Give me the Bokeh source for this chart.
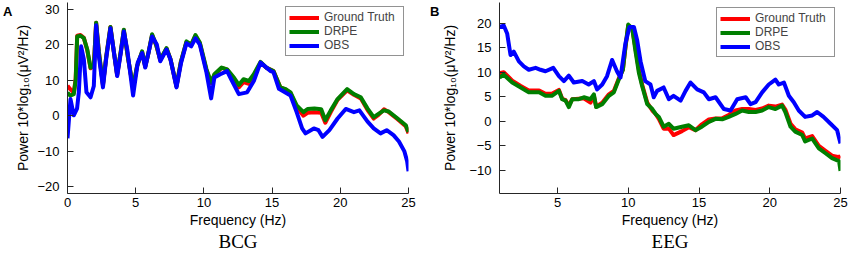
from bokeh.plotting import figure
from bokeh.layouts import row
from bokeh.models import Range1d, FixedTicker, LinearAxis
from bokeh.embed import file_html
from bokeh.resources import INLINE

# ---------------- Panel A : BCG ----------------
bcg_gt_freq = [0, 0.2, 0.46, 0.6, 0.71, 0.95, 1.2, 1.45, 1.69, 1.93, 2.1, 2.3, 2.6, 2.85, 3.15, 3.4, 3.64, 3.9,
               4.13, 4.45, 4.81, 5.1, 5.47, 5.7, 5.95, 6.2, 6.5, 6.8, 7.26, 7.55, 7.99, 8.3, 8.72, 9.07, 9.38,
               9.7, 10.19, 10.53, 10.77, 11.3, 11.7, 12.2, 12.56, 12.9, 13.3, 13.66, 14.15, 14.6, 15.1, 15.6,
               16.0, 16.35, 16.8, 17.3, 17.6, 18.1, 18.6, 18.9, 19.3, 19.8, 20.5, 21.0, 21.5, 22.0, 22.45,
               22.8, 23.2, 23.55, 24.2, 24.8, 25.0]
bcg_gt_pow = [8.5, 7.5, 6.5, 10.5, 22.6, 22.8, 22.0, 18.5, 13.4, 14.0, 26.3, 18.0, 8.6, 17.0, 25.1, 18.0, 11.4, 18.0,
              24.2, 16.0, 7.8, 14.0, 18.0, 13.8, 18.0, 22.8, 20.0, 15.7, 19.0, 16.0, 8.2, 15.0, 20.8, 20.0, 22.6,
              20.5, 12.8, 9.2, 11.5, 13.5, 13.0, 10.2, 8.0, 9.5, 9.0, 11.2, 15.0, 13.5, 12.6, 8.0,
              7.4, 6.4, 2.4, 0.0, 0.8, 1.0, 0.8, -2.0, 1.0, 4.5, 7.2, 5.9, 4.9, 1.6, -0.8,
              0.2, 1.8, 1.0, -1.0, -3.0, -5.0]

bcg_drpe_freq = bcg_gt_freq
bcg_drpe_pow = [6.5, 5.7, 6.1, 10.0, 22.4, 22.6, 21.9, 18.7, 13.6, 14.0, 26.3, 18.0, 8.9, 17.0, 25.1, 18.0, 11.7, 18.0,
                24.3, 16.0, 8.0, 14.0, 18.2, 14.0, 18.0, 23.0, 20.0, 15.9, 19.1, 16.0, 8.4, 15.0, 21.0, 20.1, 22.8,
                20.7, 13.1, 9.4, 11.7, 13.6, 13.1, 10.8, 8.7, 10.3, 9.8, 11.7, 15.2, 13.5, 12.6, 8.0,
                7.5, 6.6, 2.9, 1.0, 1.9, 2.0, 1.8, -1.3, 1.5, 4.7, 7.5, 6.1, 5.2, 2.0, -0.4,
                0.5, 1.5, 1.2, -0.8, -2.7, -4.6]

bcg_obs_freq = [0, 0.22, 0.46, 0.7, 0.83, 1.0, 1.2, 1.39, 1.69, 1.93, 2.1, 2.3, 2.6, 2.85, 3.15, 3.4, 3.64, 3.9,
                4.13, 4.38, 4.81, 5.15, 5.47, 5.7, 6.2, 6.55, 6.8, 7.26, 7.55, 7.99, 8.33, 8.72, 9.07, 9.38, 9.7,
                10.19, 10.53, 10.77, 11.2, 11.7, 12.0, 12.56, 13.17, 13.66, 14.15, 14.9, 15.1, 15.5, 16.35,
                16.8, 17.2, 17.45, 18.06, 18.4, 18.7, 19.2, 19.8, 20.4, 21.0, 21.4, 22.0, 22.45, 22.95, 23.4,
                23.9, 24.3, 24.7, 24.9, 25.0]
bcg_obs_pow = [-6.4, 4.7, 0.1, 2.0, 6.6, 19.6, 15.9, 6.6, 5.2, 8.4, 25.6, 16.8, 8.0, 16.5, 24.7, 18.0, 11.2, 17.5,
               23.8, 18.7, 5.7, 15.0, 17.7, 13.6, 22.4, 20.1, 15.4, 18.7, 15.9, 8.0, 15.0, 20.5, 19.6, 21.9, 20.1,
               12.2, 4.9, 10.8, 11.7, 12.6, 10.3, 6.1, 6.6, 9.8, 15.0, 12.6, 12.3, 7.6, 5.7,
               1.0, -3.6, -5.0, -3.6, -4.1, -6.0, -4.1, -0.8, 1.9, 1.0, 1.5, -1.7, -3.6, -5.0, -4.1,
               -5.5, -7.3, -10.1, -12.9, -15.7]

# ---------------- Panel B : EEG ----------------
eeg_gt_freq = [0.9, 1.2, 1.8, 2.4, 2.97, 3.7, 4.15, 4.6, 5.1, 5.33, 5.57, 5.8, 6.04, 6.5, 6.86, 7.33, 7.57, 7.73,
               8.16, 8.63, 8.98, 9.33, 9.62, 9.8, 10.0, 10.28, 10.5, 10.75, 10.98, 11.34, 11.7, 11.93, 12.16,
               12.5, 12.87, 13.2, 13.8, 14.28, 14.75, 15.2, 15.7, 16.17, 16.64, 17.1, 17.58, 18.05, 18.52, 19.0,
               19.46, 19.93, 20.4, 20.87, 21.1, 21.47, 21.8, 22.3, 22.5, 23.0, 23.47, 23.94, 24.4, 24.9, 25.0]
eeg_gt_pow = [9.8, 10.0, 8.3, 7.2, 6.3, 6.3, 5.6, 5.6, 6.4, 4.6, 4.3, 3.2, 4.5, 4.6, 4.7, 3.8, 5.2, 3.0,
              3.8, 5.5, 6.2, 8.7, 10.5, 15.0, 19.5, 19.0, 15.0, 10.5, 7.5, 3.8, 2.2, 1.5, 0.5,
              -1.5, -1.5, -2.8, -2.0, -1.2, -1.8, -0.6, 0.4, 0.6, 0.6, 1.3, 2.2, 2.5, 2.5, 2.3,
              2.6, 3.2, 3.0, 3.4, 2.4, -0.5, -1.6, -2.3, -3.5, -3.0, -5.0, -6.0, -7.0, -7.3, -7.0]

eeg_drpe_freq = eeg_gt_freq
eeg_drpe_pow = [8.9, 9.5, 7.9, 6.9, 5.9, 5.9, 5.2, 5.2, 6.2, 4.5, 4.2, 2.9, 4.5, 4.5, 4.9, 4.5, 5.5, 2.9,
                3.5, 5.2, 5.9, 8.5, 10.5, 15.2, 19.7, 18.9, 14.5, 9.9, 7.2, 3.5, 2.5, 1.5, 0.9,
                -1.1, -0.5, -1.5, -1.1, -0.8, -1.8, -1.1, -0.1, 0.5, 0.4, 0.9, 1.5, 2.2, 1.9, 1.9,
                2.2, 2.9, 2.5, 3.2, 1.9, -1.1, -2.1, -2.8, -4.1, -3.5, -5.5, -6.5, -7.5, -8.1, -10.1]

eeg_obs_freq = [0.9, 1.2, 1.44, 1.68, 1.91, 2.27, 2.62, 2.97, 3.45, 3.8, 4.15, 4.7, 5.1, 5.45, 5.8, 6.15, 6.75,
                7.2, 7.57, 7.8, 8.16, 8.5, 8.86, 9.2, 9.45, 9.8, 10.09, 10.4, 10.63, 10.87, 11.2, 11.57, 11.8,
                12.04, 12.5, 12.87, 13.2, 13.7, 14.05, 14.4, 14.87, 15.34, 15.7, 16.17, 16.76, 17.23, 17.7,
                18.3, 18.64, 19.0, 19.46, 19.93, 20.4, 20.64, 21.0, 21.35, 21.7, 22.05, 22.5, 23.0, 23.35,
                23.8, 24.3, 24.76, 25.0]
eeg_obs_pow = [19.2, 19.5, 17.9, 13.5, 14.2, 12.2, 11.2, 10.5, 10.9, 10.5, 10.2, 10.9, 9.2, 8.2, 9.3, 7.9, 8.2,
               7.5, 8.2, 6.5, 7.5, 9.2, 12.5, 10.2, 8.9, 15.9, 19.2, 19.2, 16.5, 12.2, 8.2, 7.5, 4.9,
               6.2, 6.9, 4.5, 5.2, 4.2, 6.2, 7.9, 6.5, 5.9, 4.5, 4.9, 2.5, 2.2, 4.5,
               4.9, 3.5, 3.9, 5.9, 7.5, 8.5, 7.5, 7.9, 5.2, 3.9, 2.2, 0.9, 1.2, 1.9,
               0.9, -0.5, -1.8, -4.5]

series_names = ["Ground Truth", "DRPE", "OBS"]
series_colors = ["#ff0000", "#007f00", "#0000ff"]

FONT = "Liberation Sans"


def blank_axis(label, font, size, style, orientation=None, align=None):
    ax = LinearAxis(ticker=FixedTicker(ticks=[]), axis_label=label)
    ax.axis_line_color = None
    ax.major_tick_in = 0
    ax.major_tick_out = 0
    ax.minor_tick_in = 0
    ax.minor_tick_out = 0
    ax.major_label_standoff = 0
    ax.axis_label_standoff = 0
    ax.axis_label_text_font = font
    ax.axis_label_text_font_size = size
    ax.axis_label_text_font_style = style
    ax.axis_label_text_color = "black"
    if orientation is not None:
        ax.axis_label_orientation = orientation
    if align is not None:
        ax.axis_label_align = align
    return ax


def make_panel(width, border_left, border_right, xr, yr, xticks, yticks, ylab_standoff,
               data, letter, bottom_text, legend_margin):
    p = figure(width=width, height=254, x_range=Range1d(*xr), y_range=Range1d(*yr),
               output_backend="svg", toolbar_location=None,
               min_border_left=border_left, min_border_right=border_right,
               min_border_top=2, min_border_bottom=56)
    p.outline_line_color = None
    p.grid.visible = False
    p.background_fill_color = "white"
    p.border_fill_color = "white"

    for ax in (p.xaxis[0], p.yaxis[0]):
        ax.axis_line_color = "#262626"
        ax.major_tick_line_color = "#262626"
        ax.major_tick_in = 6
        ax.major_tick_out = 0
        ax.minor_tick_in = 0
        ax.minor_tick_out = 0
        ax.major_label_text_font = FONT
        ax.major_label_text_font_size = "13px"
        ax.major_label_text_color = "black"
        ax.axis_label_text_font = FONT
        ax.axis_label_text_font_size = "14px"
        ax.axis_label_text_font_style = "normal"
        ax.axis_label_text_color = "black"

    p.xaxis.ticker = FixedTicker(ticks=xticks)
    p.yaxis.ticker = FixedTicker(ticks=yticks)
    p.xaxis.major_label_standoff = 4
    p.yaxis.major_label_standoff = 8
    p.xaxis.axis_label = "Frequency (Hz)"
    p.xaxis.axis_label_standoff = 2
    p.yaxis.axis_label = "Power 10*log\u2081\u2080(\u03bcV\u00b2/Hz)"
    p.yaxis.axis_label_standoff = ylab_standoff

    # panel letter (outer left, top aligned) and panel name (outer bottom)
    p.add_layout(blank_axis("\n" + letter, FONT, "13px", "bold", "horizontal", "end"), "left")
    p.add_layout(blank_axis(bottom_text, "Liberation Serif", "19px", "normal"), "below")

    for (fx, py), name, col in zip(data, series_names, series_colors):
        p.line(fx, py, line_color=col, line_width=4, line_join="round", legend_label=name)

    lg = p.legend[0]
    lg.location = "top_right"
    lg.margin = legend_margin
    lg.padding = 3
    lg.spacing = 0
    lg.label_height = 13
    lg.glyph_height = 13
    lg.glyph_width = 30
    lg.label_standoff = 5
    lg.label_width = 76
    lg.label_text_font = FONT
    lg.label_text_font_size = "12px"
    lg.border_line_color = "#262626"
    lg.border_line_width = 1
    lg.background_fill_alpha = 1.0
    return p


pa = make_panel(425, 67, 17, (0, 25), (-22, 32), [0, 5, 10, 15, 20, 25],
                [-20, -10, 0, 10, 20, 30], 3,
                [(bcg_gt_freq, bcg_gt_pow), (bcg_drpe_freq, bcg_drpe_pow), (bcg_obs_freq, bcg_obs_pow)],
                "A", "BCG", 4)
pb = make_panel(426, 74, 11, (0.9, 25), (-14.7, 24.2), [5, 10, 15, 20, 25],
                [-10, -5, 0, 5, 10, 15, 20], 8,
                [(eeg_gt_freq, eeg_gt_pow), (eeg_drpe_freq, eeg_drpe_pow), (eeg_obs_freq, eeg_obs_pow)],
                "B", "EEG", 5)

layout = row(pa, pb)
open("out.html", "w").write(file_html(layout, INLINE))
